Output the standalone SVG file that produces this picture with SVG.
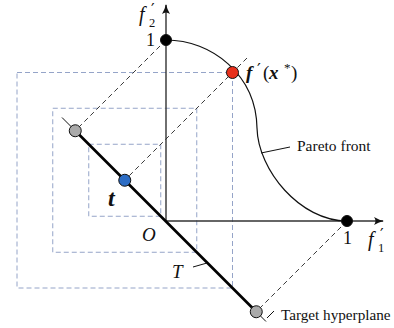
<svg xmlns="http://www.w3.org/2000/svg" width="394" height="328" viewBox="0 0 394 328">
<style>
.box{fill:none;stroke:#95a4c8;stroke-width:1;stroke-dasharray:5 3}
.dash{fill:none;stroke:#222;stroke-width:0.9;stroke-dasharray:5 3.5}
.thin{fill:none;stroke:#111;stroke-width:1}
.axis{fill:none;stroke:#333;stroke-width:1.4}
.pt{stroke:#111;stroke-width:1}
.tx{font-family:"Liberation Serif","DejaVu Serif",serif;fill:#111}
.it{font-style:italic}
.bi{font-style:italic;font-weight:bold}
.pr{font-family:"DejaVu Serif",serif;font-style:normal;font-weight:normal}
</style>
<defs>
<marker id="arr" viewBox="0 0 10 10" refX="9" refY="5" markerWidth="10" markerHeight="10" markerUnits="userSpaceOnUse" orient="auto">
<path d="M0,1 Q5,4 10,5 Q5,6 0,9 Q3,5 0,1 Z" fill="#111"/>
</marker>
</defs>
<g id="boxes">
<rect class="box" x="17" y="72.5" width="215.5" height="215.5"/>
<rect class="box" x="52.75" y="108.25" width="144" height="144"/>
<rect class="box" x="88.75" y="144.25" width="72" height="72"/>
</g>
<g id="connectors">
<line class="axis" x1="166" y1="221" x2="383" y2="221" marker-end="url(#arr)"/>
<line class="axis" x1="166" y1="221" x2="166" y2="5" marker-end="url(#arr)"/>
<line class="dash" x1="166" y1="40" x2="75.25" y2="130.75"/>
<line class="dash" x1="247" y1="58" x2="124.75" y2="180.25"/>
<line class="dash" x1="347" y1="221" x2="256.25" y2="311.75"/>
<line class="thin" x1="62" y1="117.5" x2="75.25" y2="130.75"/>
<line class="thin" x1="256.25" y1="311.75" x2="266" y2="321.5"/>
<line stroke="#000" stroke-width="2.6" x1="75.25" y1="130.75" x2="256.25" y2="311.75"/>
<path id="pareto" fill="none" stroke="#111" stroke-width="1.2" d="M166,40 C212,40 256,75 257,128 C258,170 300,221 347,221"/>
<line class="thin" x1="261" y1="153" x2="290" y2="147"/>
<line class="thin" x1="193" y1="267" x2="207" y2="263"/>
<line class="thin" x1="267" y1="318" x2="274" y2="311"/>
</g>
<g id="p01"><circle class="pt" cx="166" cy="40" r="5.5" fill="#000"/></g>
<g id="p10"><circle class="pt" cx="347" cy="221" r="5.5" fill="#000"/></g>
<g id="fx"><circle class="pt" cx="232.5" cy="72.5" r="6" fill="#e8301c"/></g>
<g id="t"><circle class="pt" cx="124.75" cy="180.25" r="6" fill="#2c6cc4"/></g>
<g id="g1"><circle class="pt" cx="75.25" cy="130.75" r="6" fill="#aaaaaa"/></g>
<g id="g2"><circle class="pt" cx="256.25" cy="311.75" r="6" fill="#aaaaaa"/></g>
<g id="labels">
<text class="tx" font-size="20"><tspan class="it" x="139" y="21">f</tspan><tspan class="pr" font-size="16" x="151" y="15">′</tspan><tspan font-size="12.5" x="149" y="27">2</tspan></text>
<text class="tx" x="146" y="46" font-size="18">1</text>
<text class="tx" x="343" y="244" font-size="18">1</text>
<text class="tx" font-size="20"><tspan class="it" x="368" y="246">f</tspan><tspan class="pr" font-size="16" x="380" y="240">′</tspan><tspan font-size="12.5" x="378" y="252">1</tspan></text>
<text class="tx" font-size="19"><tspan class="bi" x="246" y="79">f</tspan><tspan class="pr" font-size="17" x="257" y="75">′</tspan><tspan x="263" y="79">(</tspan><tspan class="bi" x="269" y="79">x</tspan><tspan font-size="13" x="284" y="72">*</tspan><tspan x="291" y="79">)</tspan></text>
<text class="tx" x="297" y="151" font-size="15.5">Pareto front</text>
<text class="tx" x="281" y="320" font-size="15.2">Target hyperplane</text>
<text class="tx bi" x="108" y="206" font-size="24">t</text>
<text class="tx it" x="142" y="241" font-size="19">O</text>
<text class="tx it" x="172" y="278" font-size="19">T</text>
</g>
</svg>
